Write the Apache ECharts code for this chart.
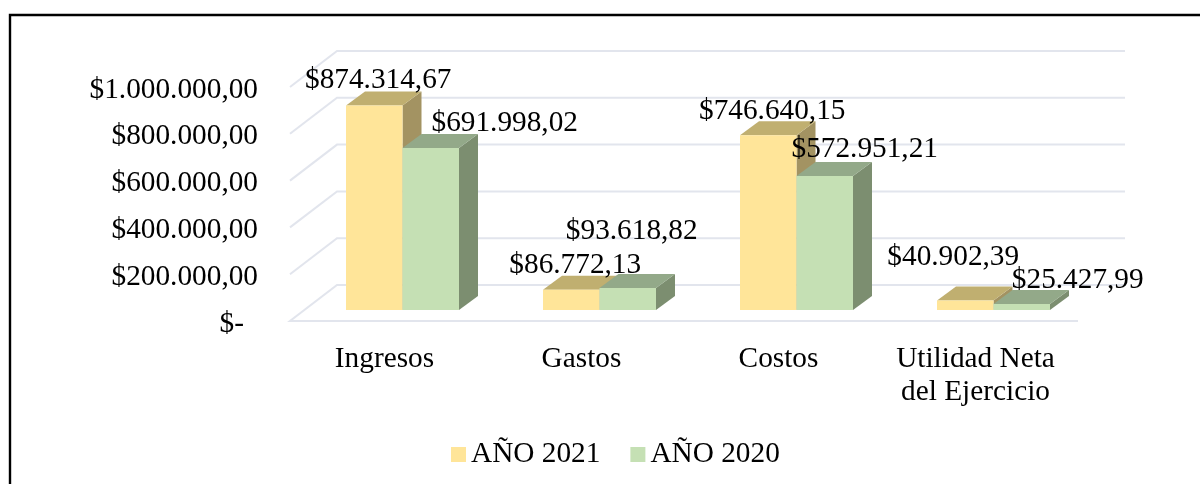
<!DOCTYPE html>
<html><head><meta charset="utf-8">
<style>html,body{margin:0;padding:0;background:#fff}#c{width:1200px;height:484px}</style>
<script src="https://cdn.jsdelivr.net/npm/echarts@6/dist/echarts.min.js"></script>
</head><body><div id="c"></div>
<script>
const categories = ['Ingresos', 'Gastos', 'Costos', 'Utilidad Neta\ndel Ejercicio'];
const seriesNames = ['AÑO 2021', 'AÑO 2020'];
const values2021 = [874314.67, 86772.13, 746640.15, 40902.39];
const values2020 = [691998.02, 93618.82, 572951.21, 25427.99];
const labels2021 = ['$874.314,67', '$86.772,13', '$746.640,15', '$40.902,39'];
const labels2020 = ['$691.998,02', '$93.618,82', '$572.951,21', '$25.427,99'];
const yTicks = [0, 200000, 400000, 600000, 800000, 1000000];
const yTickLabels = ['$-', '$200.000,00', '$400.000,00', '$600.000,00', '$800.000,00', '$1.000.000,00'];

// label offsets from the top-centre of each bar (manual placement in the source chart)
const labelShift2021 = [[4, -25], [4, -24], [4, -24], [-12, -43]];
const labelShift2020 = [[74, -25], [4, -57], [40, -27], [56, -24]];

const FONT = '"Liberation Serif","Times New Roman",serif';
const FS = 29.3;
const WALL = {dx: 47, dy: -36};          // full depth of the floor
const START = {dx: 14, dy: -11};         // where the bars start inside the floor
const DEPTH = {dx: 19, dy: -14};         // depth of a bar
const BAR_W = 56.5;
const GRID_C = '#e2e5ed';

function wallItem(params, api) {
  const v = api.value(0);
  const p = api.coord([0, v]);
  const cs = params.coordSys;
  const x0 = cs.x, x1 = cs.x + cs.width, y = p[1];
  const style = {stroke: GRID_C, lineWidth: 2, fill: null};
  const pts = [[x0, y], [x0 + WALL.dx, y + WALL.dy], [x1 + WALL.dx, y + WALL.dy]];
  if (v === 0) pts.unshift([x1, y]);
  return {type: 'polyline', shape: {points: pts}, style, silent: true};
}

function barRenderer(idx, colors) {
  return function (params, api) {
    const i = api.value(0);
    const val = api.value(1);
    const base = api.coord([i, 0]);
    const top = api.coord([i, val]);
    const xL = base[0] + START.dx + (idx - 1) * BAR_W;
    const xR = xL + BAR_W;
    const yB = base[1] + START.dy;
    const yT = top[1] + START.dy;
    const d = DEPTH;
    return {type: 'group', children: [
      {type: 'polygon', shape: {points: [[xR, yT], [xR + d.dx, yT + d.dy], [xR + d.dx, yB + d.dy], [xR, yB]]}, style: {fill: colors.side}},
      {type: 'polygon', shape: {points: [[xL, yT], [xL + d.dx, yT + d.dy], [xR + d.dx, yT + d.dy], [xR, yT]]}, style: {fill: colors.top}},
      {type: 'rect', shape: {x: xL, y: yT, width: BAR_W, height: yB - yT}, style: {fill: colors.front}}
    ]};
  };
}

function labelRenderer(labels, shifts, idx) {
  return function (params, api) {
    const i = api.value(0);
    const base = api.coord([i, 0]);
    const top = api.coord([i, api.value(1)]);
    const xc = base[0] + START.dx + (idx - 0.5) * BAR_W;
    const s = shifts[i];
    return {type: 'text', z2: 100, style: {
      x: xc + s[0], y: top[1] + START.dy + s[1], text: labels[i],
      font: FS + 'px ' + FONT, fill: '#000', align: 'center', verticalAlign: 'middle'
    }};
  };
}

const c21 = {front: '#FFE599', side: '#A39362', top: '#C0AF70'};
const c20 = {front: '#C5E0B4', side: '#7C8E70', top: '#93A989'};

const option = {
  animation: false,
  backgroundColor: '#fff',
  grid: {left: 290, top: 87, width: 788, height: 234, containLabel: false},
  graphic: [{type: 'polyline', z: -1, shape: {points: [[10, 490], [10, 15], [1205, 15]]},
    style: {fill: null, stroke: '#000', lineWidth: 2.4}}],
  legend: {
    data: seriesNames, left: 451, top: 440, padding: 0, itemWidth: 15, itemHeight: 15, itemGap: 30,
    icon: 'rect', selectedMode: false,
    textStyle: {fontFamily: FONT, fontSize: FS, color: '#000'}
  },
  xAxis: {
    type: 'category', data: categories,
    axisLine: {show: false}, axisTick: {show: false}, splitLine: {show: false},
    axisLabel: {fontFamily: FONT, fontSize: FS, color: '#000', lineHeight: 33, margin: 22, interval: 0, padding: [0, 8, 0, 0]}
  },
  yAxis: {
    type: 'value', min: 0, max: 1000000, interval: 200000,
    axisLine: {show: false}, axisTick: {show: false}, splitLine: {show: false},
    axisLabel: {
      fontFamily: FONT, fontSize: FS, color: '#000', margin: 32, padding: [6, 0, 0, 0],
      formatter: v => {
        const t = yTickLabels[yTicks.indexOf(v)];
        return v === 0 ? '{z|' + t + '}' : t;
      },
      rich: {z: {fontFamily: FONT, fontSize: FS, color: '#000', padding: [0, 14, 0, 0]}}
    }
  },
  series: [
    {type: 'custom', silent: true, z: 1, coordinateSystem: 'cartesian2d', clip: false,
     data: yTicks.map(v => [v]), encode: {y: 0}, renderItem: wallItem},
    {type: 'custom', name: seriesNames[0], z: 2, itemStyle: {color: c21.front}, clip: false,
     data: values2021.map((v, i) => [i, v]), encode: {x: 0, y: 1}, renderItem: barRenderer(0, c21)},
    {type: 'custom', name: seriesNames[1], z: 3, itemStyle: {color: c20.front}, clip: false,
     data: values2020.map((v, i) => [i, v]), encode: {x: 0, y: 1}, renderItem: barRenderer(1, c20)},
    {type: 'custom', z: 4, silent: true, clip: false,
     data: values2021.map((v, i) => [i, v]), encode: {x: 0, y: 1}, renderItem: labelRenderer(labels2021, labelShift2021, 0)},
    {type: 'custom', z: 5, silent: true, clip: false,
     data: values2020.map((v, i) => [i, v]), encode: {x: 0, y: 1}, renderItem: labelRenderer(labels2020, labelShift2020, 1)}
  ]
};
echarts.init(document.getElementById('c'), null, {renderer: 'canvas'}).setOption(option);
</script></body></html>
